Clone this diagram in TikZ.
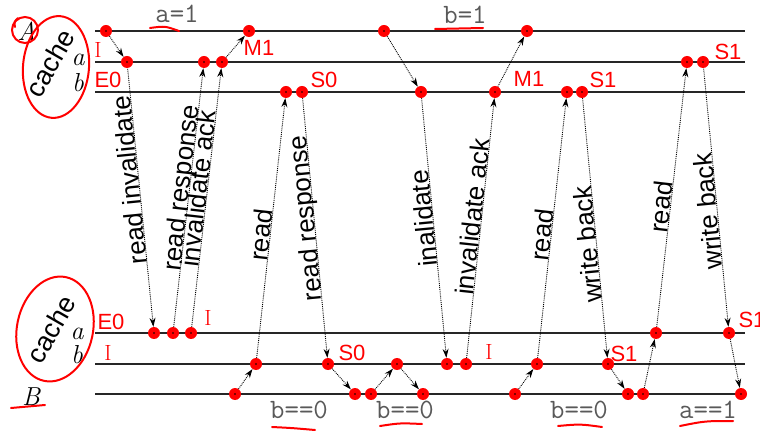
\documentclass[tikz,border=0pt]{standalone}
\usepackage{fontspec}
\setsansfont{Liberation Sans}
\usetikzlibrary{arrows.meta}

\tikzset{
  wire/.style={line width=1.4pt, black!85},
  dot/.style={circle, fill=red, inner sep=0pt, minimum size=12pt,
    path picture={\fill[black] (path picture bounding box.center) circle (0.9pt);}},
  msg/.style={densely dotted, line width=0.9pt, -{Stealth[length=9pt,width=6pt]}},
  msgdown/.style={densely dotted, line width=0.9pt, {Stealth[length=9pt,width=6pt]}-},
  lbl/.style={sloped, allow upside down, anchor=base, inner sep=1pt,
    font=\fontsize{26}{30}\selectfont\sffamily},
  cond/.style={font=\fontsize{28}{32}\selectfont\ttfamily, text=black!65},
  side/.style={font=\fontsize{26}{30}\selectfont\rmfamily\itshape},
  note/.style={text=red, font=\fontsize{22}{26}\selectfont\sffamily},
  ink/.style={red, line width=2pt, line cap=round},
}

\begin{document}
\begin{tikzpicture}[x=1pt, y=-1pt]
\useasboundingbox (0,0) rectangle (760,435);

% lines of processor A and of its cache
\draw[wire] (95,31) -- (745,31);
\draw[wire] (95,62) -- (745,62);
\draw[wire] (95,92) -- (745,92);
% lines of processor B and of its cache
\draw[wire] (95,333) -- (745,333);
\draw[wire] (95,364) -- (745,364);
\draw[wire] (95,394) -- (745,394);

% names on the left
\node[side] (nameA) at (27,31) {A};
\node[font=\fontsize{27}{30}\selectfont\sffamily, rotate=60] (cacheA) at (50,63) {cache};
\node[side] (lineAa) at (78,60) {a};
\node[side] (lineAb) at (78,83) {b};
\node[side] (nameB) at (31,397) {B};
\node[font=\fontsize{27}{30}\selectfont\sffamily, rotate=60] (cacheB) at (51,329) {cache};
\node[side] (lineBa) at (77,334) {a};
\node[side] (lineBb) at (77,355) {b};

% events on A
\node[dot] (tA1) at (106,31) {};
\node[dot] (tA2) at (249,31) {};
\node[dot] (tA3) at (384,31) {};
\node[dot] (tA4) at (527,31) {};
\node[dot] (ta1) at (127,62) {};
\node[dot] (ta2) at (204,62) {};
\node[dot] (ta3) at (222,62) {};
\node[dot] (ta4) at (687,62) {};
\node[dot] (ta5) at (703,62) {};
\node[dot] (tb1) at (286,92) {};
\node[dot] (tb2) at (302,92) {};
\node[dot] (tb3) at (421,92) {};
\node[dot] (tb4) at (495,92) {};
\node[dot] (tb5) at (567,92) {};
\node[dot] (tb6) at (582,92) {};

% events on B
\node[dot] (ba1) at (154,333) {};
\node[dot] (ba2) at (173,333) {};
\node[dot] (ba3) at (191,333) {};
\node[dot] (ba4) at (656,333) {};
\node[dot] (ba5) at (729,333) {};
\node[dot] (bb1) at (256,364) {};
\node[dot] (bb2) at (328,364) {};
\node[dot] (bb3) at (397,364) {};
\node[dot] (bb4) at (447,364) {};
\node[dot] (bb5) at (466,364) {};
\node[dot] (bb6) at (537,364) {};
\node[dot] (bb7) at (608,364) {};
\node[dot] (bB1) at (235,394) {};
\node[dot] (bB2) at (355,394) {};
\node[dot] (bB3) at (371,394) {};
\node[dot] (bB4) at (423,394) {};
\node[dot] (bB5) at (515,394) {};
\node[dot] (bB6) at (628,394) {};
\node[dot] (bB7) at (643,394) {};
\node[dot] (bB8) at (741,394) {};

% short steps between a processor and its cache
\draw[msg] (tA1) -- (ta1);
\draw[msg] (ta3) -- (tA2);
\draw[msg] (tA3) -- (tb3);
\draw[msg] (tb4) -- (tA4);
\draw[msg] (bB1) -- (bb1);
\draw[msg] (bb2) -- (bB2);
\draw[msg] (bB3) -- (bb3);
\draw[msg] (bb3) -- (bB4);
\draw[msg] (bB5) -- (bb6);
\draw[msg] (bb7) -- (bB6);
\draw[msg] (bB7) -- (ba4);
\draw[msg] (ba5) -- (bB8);

% messages on the bus
\draw[msgdown] (ba1) -- (ta1) node[lbl, pos=0.57] {read invalidate};
\draw[msg] (ba2) -- (ta2) node[lbl, pos=0.535] {read response};
\draw[msg] (ba3) -- (ta3) node[lbl, pos=0.53] {invalidate ack};
\draw[msg] (bb1) -- (tb1) node[lbl, pos=0.47] {read};
\draw[msgdown] (bb2) -- (tb2) node[lbl, pos=0.54] {read response};
\draw[msgdown] (bb4) -- (tb3) node[lbl, pos=0.54] {inalidate};
\draw[msg] (bb5) -- (tb4) node[lbl, pos=0.54] {invalidate ack};
\draw[msg] (bb6) -- (tb5) node[lbl, pos=0.47] {read};
\draw[msgdown] (bb7) -- (tb6) node[lbl, pos=0.44] {write back};
\draw[msg] (ba4) -- (ta4) node[lbl, pos=0.46] {read};
\draw[msgdown] (ba5) -- (ta5) node[lbl, pos=0.45] {write back};

% program lines
\node[cond] (setA) at (177,14) {a=1};
\node[cond] (setB) at (465,15) {b=1};
\node[cond] (testB1) at (299,410) {b==0};
\node[cond] (testB2) at (405,410) {b==0};
\node[cond] (testB3) at (579,410) {b==0};
\node[cond] (testA) at (708,410) {a==1};

% red marks: cache states
\node[note, font=\fontsize{22}{26}\selectfont\rmfamily] (stA1) at (98,50) {I};
\node[note] (stA2) at (108,80) {E0};
\node[note] (stA3) at (259,48) {M1};
\node[note] (stA4) at (324,80) {S0};
\node[note] (stA5) at (529,79) {M1};
\node[note] (stA6) at (603,80) {S1};
\node[note] (stA7) at (728,52) {S1};
\node[note] (stB1) at (111,322) {E0};
\node[note, font=\fontsize{22}{26}\selectfont\rmfamily] (stB2) at (208,318) {I};
\node[note, font=\fontsize{22}{26}\selectfont\rmfamily] (stB3) at (108,353) {I};
\node[note] (stB4) at (352,353) {S0};
\node[note, font=\fontsize{22}{26}\selectfont\rmfamily] (stB5) at (489,352) {I};
\node[note] (stB6) at (624,354) {S1};
\node[note] (stB7) at (752,320) {S1};

% red marks: circles and underlines
\draw[ink] (25,30) circle (13);
\draw[ink] (18,18) .. controls (14,22) .. (15,27);
\draw[ink, rotate around={-5:(56,67)}] (56,67) ellipse [x radius=33, y radius=51];
\draw[ink, rotate around={-12:(55,329)}] (55,329) ellipse [x radius=38, y radius=53];
\draw[ink] (150,28) .. controls (165,26) .. (179,31);
\draw[ink] (435,29) -- (483,28);
\draw[ink] (11,408) -- (45,405);
\draw[ink] (272,427) .. controls (292,428) .. (315,430);
\draw[ink] (380,426) .. controls (400,423) .. (422,424);
\draw[ink] (558,426) .. controls (580,424) .. (602,427);
\draw[ink] (680,426) .. controls (705,421) .. (733,421);
\end{tikzpicture}
\end{document}
